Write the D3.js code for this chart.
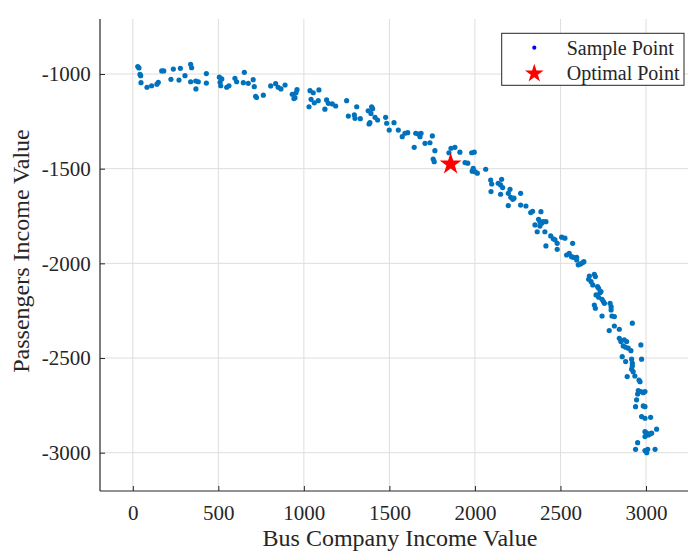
<!DOCTYPE html>
<html>
<head>
<meta charset="utf-8">
<script src="https://cdn.jsdelivr.net/npm/d3@7"></script>
<style>
  html, body { margin: 0; padding: 0; background: #fff; }
  svg { display: block; }
  text { font-family: "Liberation Serif", "Times New Roman", serif; fill: #262626; }
</style>
</head>
<body>
<svg id="chart" width="688" height="552"></svg>
<script>
// ---- data ----
const xTicks = [0, 500, 1000, 1500, 2000, 2500, 3000];
const yTicks = [-1000, -1500, -2000, -2500, -3000];
const xLabel = "Bus Company Income Value";
const yLabel = "Passengers Income Value";
const legendLabels = ["Sample Point", "Optimal Point"];
const optimalPoint = [1858, -1476];
const samplePoints = [
  [29,-961],[36,-968],[42,-1002],[46,-1009],[48,-1046],[83,-1070],[110,-1062],[141,-1054],[149,-1044],[169,-984],
  [181,-984],[223,-1028],[237,-974],[270,-1032],[278,-970],[305,-1009],[338,-949],[344,-967],[338,-1041],[368,-1037],
  [383,-1041],[369,-1079],[430,-998],[430,-1048],[506,-1017],[510,-1044],[520,-1026],[514,-1062],[549,-1070],[562,-1062],
  [597,-1023],[607,-1041],[646,-1046],[652,-991],[675,-1049],[704,-1030],[710,-1067],[718,-1118],[723,-1124],[763,-1112],
  [806,-1063],[835,-1051],[850,-1070],[866,-1079],[890,-1058],[932,-1107],[960,-1083],[948,-1125],[954,-1099],[942,-1130],
  [1036,-1088],[1055,-1099],[1088,-1084],[1042,-1134],[1061,-1152],[1084,-1141],[1030,-1173],[1133,-1137],[1143,-1155],[1166,-1158],
  [1186,-1169],[1123,-1186],[1250,-1141],[1309,-1173],[1260,-1222],[1295,-1216],[1299,-1234],[1330,-1236],[1376,-1194],[1396,-1173],
  [1402,-1183],[1392,-1208],[1386,-1257],[1381,-1264],[1416,-1229],[1431,-1243],[1478,-1229],[1484,-1260],[1499,-1296],[1527,-1257],
  [1552,-1296],[1575,-1331],[1591,-1313],[1607,-1310],[1654,-1313],[1669,-1317],[1685,-1313],[1679,-1331],[1645,-1387],[1708,-1366],
  [1737,-1363],[1751,-1327],[1766,-1405],[1756,-1449],[1762,-1463],[1860,-1392],[1883,-1387],[1912,-1413],[1848,-1416],[1942,-1468],
  [1958,-1471],[1981,-1416],[1996,-1413],[1990,-1498],[1984,-1513],[2000,-1516],[2014,-1524],[2063,-1503],
  [2092,-1560],[2098,-1581],[2094,-1621],[2136,-1577],[2150,-1586],[2156,-1556],[2162,-1600],[2150,-1635],[2195,-1630],[2205,-1609],
  [2209,-1651],[2221,-1662],[2228,-1656],[2195,-1695],[2267,-1630],[2267,-1692],[2298,-1697],[2326,-1732],[2337,-1725],[2386,-1727],
  [2372,-1767],[2380,-1780],[2390,-1788],[2399,-1780],[2415,-1780],[2351,-1797],[2380,-1803],[2364,-1833],[2409,-1833],[2443,-1855],
  [2458,-1870],[2468,-1876],[2507,-1862],[2526,-1867],[2415,-1908],[2481,-1894],[2481,-1926],[2571,-1894],
  [2536,-1956],[2551,-1947],[2565,-1965],[2575,-1968],[2595,-1968],[2604,-2008],[2618,-2003],[2630,-1996],[2637,-1991],[2595,-1982],
  [2669,-2067],[2665,-2084],[2679,-2097],[2698,-2058],[2704,-2070],[2689,-2114],[2717,-2123],[2723,-2132],[2731,-2155],[2737,-2149],
  [2708,-2167],[2723,-2179],[2743,-2190],[2751,-2202],[2757,-2211],[2790,-2211],[2796,-2229],[2698,-2220],[2704,-2237],[2743,-2278],
  [2801,-2278],[2815,-2281],[2785,-2355],[2815,-2331],[2844,-2348],[2920,-2316],[2796,-2246],
  [2844,-2396],[2853,-2413],[2873,-2404],[2887,-2413],[2867,-2436],[2881,-2443],[2896,-2448],[2912,-2461],[2970,-2431],[2861,-2493],
  [2881,-2519],[2916,-2506],[2920,-2527],[2920,-2542],[2974,-2506],[2916,-2559],[2925,-2572],[2935,-2595],[2890,-2598],[2959,-2616],
  [2965,-2625],[2955,-2672],[2970,-2677],[2984,-2683],[2994,-2677],[2951,-2690],[2945,-2721],[2984,-2753],[2994,-2757],[2939,-2757],
  [2974,-2809],[2994,-2818],[3027,-2813],[2994,-2889],[3004,-2897],[3013,-2906],[3023,-2901],[3033,-2897],[3062,-2876],[2994,-2915],
  [2951,-2947],[2939,-2982],[2994,-2989],[3010,-2982],[3004,-3000],[3053,-2982]
];

// ---- layout ----
const svg = d3.select("#chart");
const L = 100, R = 688, T = 19, B = 491;
const x = d3.scaleLinear().domain([0, 3000]).range([132.8, 646]);
const y = d3.scaleLinear().domain([-1000, -3000]).range([74, 452.7]);

svg.append("rect").attr("width", 688).attr("height", 552).attr("fill", "#fff");

// grid
const grid = svg.append("g").attr("stroke", "#dedede").attr("stroke-width", 1);
grid.selectAll("line.gx").data(xTicks).join("line")
  .attr("x1", d => x(d)).attr("x2", d => x(d)).attr("y1", T).attr("y2", B);
grid.selectAll("line.gy").data(yTicks).join("line")
  .attr("x1", L).attr("x2", R).attr("y1", d => y(d)).attr("y2", d => y(d));

// axes
const xAxis = svg.append("g").attr("transform", `translate(0,${B})`)
  .call(d3.axisBottom(x).tickValues(xTicks).tickSizeInner(-5).tickSizeOuter(0).tickFormat(d => String(d)));
xAxis.select(".domain").remove();
xAxis.selectAll(".tick line").attr("stroke", "#262626");
xAxis.selectAll(".tick text").attr("y", 29).attr("dy", 0)
  .style("font-size", "21px").attr("fill", "#262626");

const yAxis = svg.append("g").attr("transform", `translate(${L},0)`)
  .call(d3.axisLeft(y).tickValues(yTicks).tickSizeInner(-5).tickSizeOuter(0).tickFormat(d => String(d)));
yAxis.select(".domain").remove();
yAxis.selectAll(".tick line").attr("stroke", "#262626");
yAxis.selectAll(".tick text").attr("x", -9.3).attr("dy", "0.32em")
  .style("font-size", "21px").attr("fill", "#262626");

svg.append("line").attr("x1", L).attr("x2", L).attr("y1", T).attr("y2", B)
  .attr("stroke", "#262626").attr("stroke-width", 1.2);
svg.append("line").attr("x1", L).attr("x2", R).attr("y1", B).attr("y2", B)
  .attr("stroke", "#262626").attr("stroke-width", 1.2);

// sample points
svg.append("g").selectAll("circle").data(samplePoints).join("circle")
  .attr("cx", d => x(d[0])).attr("cy", d => y(d[1])).attr("r", 2.6)
  .attr("fill", "#0072BD");

// optimal point star (outer radius ~11.5px)
const starR = 11.5;
svg.append("path")
  .attr("d", d3.symbol(d3.symbolStar, starR * starR / 0.8908130915292852)())
  .attr("transform", `translate(${x(optimalPoint[0])},${y(optimalPoint[1])})`)
  .attr("fill", "#ff0000");

// axis labels
svg.append("text").attr("x", 400).attr("y", 546).attr("text-anchor", "middle")
  .style("font-size", "24px").text(xLabel);
svg.append("text").attr("transform", "translate(29,251) rotate(-90)").attr("text-anchor", "middle")
  .style("font-size", "24px").text(yLabel);

// legend
const lg = svg.append("g");
lg.append("rect").attr("x", 501.7).attr("y", 33.3).attr("width", 182.3).attr("height", 52)
  .attr("fill", "#fff").attr("stroke", "#262626").attr("stroke-width", 1);
lg.append("circle").attr("cx", 534.3).attr("cy", 47.7).attr("r", 2.1).attr("fill", "#0000ff");
const lsR = 9.8;
lg.append("path")
  .attr("d", d3.symbol(d3.symbolStar, lsR * lsR / 0.8908130915292852)())
  .attr("transform", "translate(534.3,73.5)").attr("fill", "#ff0000");
lg.selectAll("text").data(legendLabels).join("text")
  .attr("x", 566.7).attr("y", (d, i) => 54.5 + i * 25)
  .style("font-size", "20px").text(d => d);
</script>
</body>
</html>
